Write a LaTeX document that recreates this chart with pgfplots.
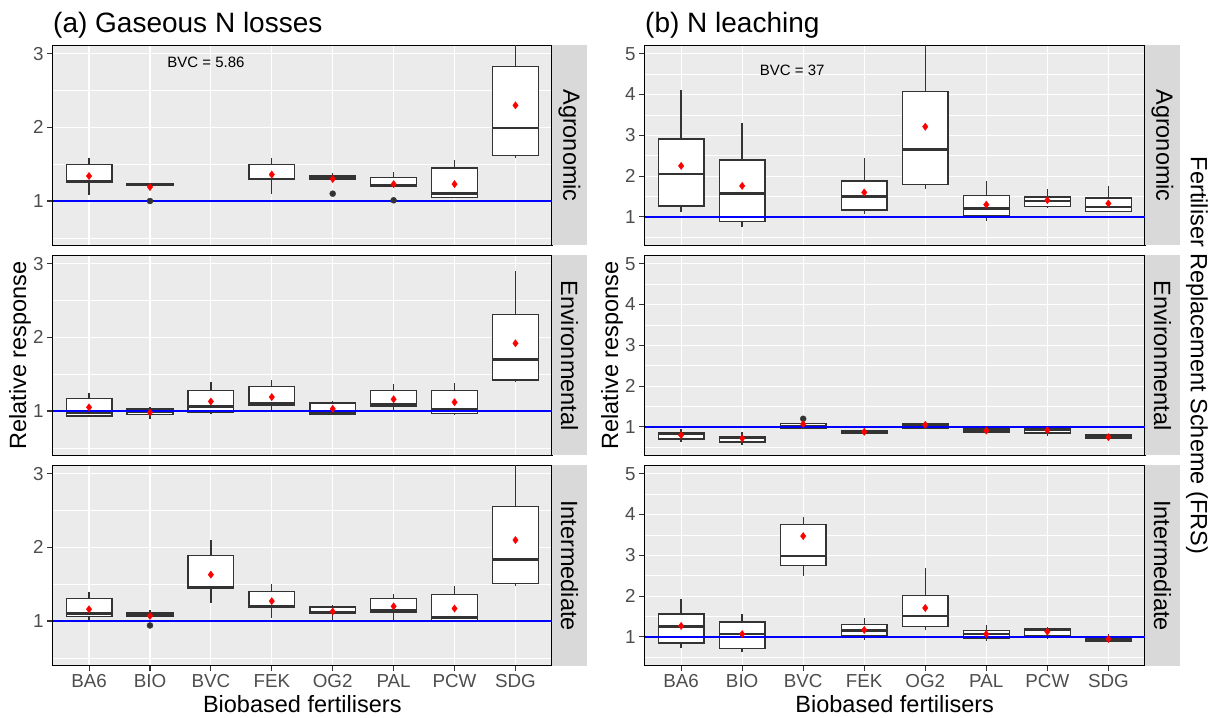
\documentclass[border=0pt]{standalone}
\usepackage{pgfplots}
\pgfplotsset{compat=1.18}
\usepgfplotslibrary{statistics}
\usepackage{fontspec}
\setmainfont{Liberation Sans}
\definecolor{g92}{HTML}{EBEBEB}
\definecolor{g85}{HTML}{D9D9D9}
\definecolor{g20}{HTML}{333333}
\definecolor{g30}{HTML}{4D4D4D}
% box: position, lower whisker, lower quartile, median, upper quartile, upper whisker
\newcommand{\bx}[6]{\addplot[draw=g20, fill=white, line width=1.4pt, boxplot prepared={draw direction=y, draw position=#1, lower whisker=#2, lower quartile=#3, median=#4, upper quartile=#5, upper whisker=#6}] coordinates {};}
\pgfplotsset{
  panel/.style={scale only axis, width=499.5pt, height=200pt, xmin=0.4, xmax=8.6,
    xtick={1,...,8}, xticklabels={}, anchor=south west,
    axis background/.style={fill=g92},
    grid=both, major grid style={white, line width=1.2pt}, minor grid style={white, line width=0.6pt},
    axis line style={black, line width=1.4pt},
    tick align=outside, major tick length=5.5pt, minor tick length=0pt,
    tick style={g20, line width=1.1pt},
    ytick pos=left, xtick pos=bottom,
    ticklabel style={font=\fontsize{18.8}{20}\selectfont, text=g30},
    /pgf/number format/assume math mode=true,
    boxplot/draw direction=y,
    boxplot/box extend=0.75, boxplot/whisker extend=0,
    boxplot/every median/.style={line width=2.6pt},
  },
  lefty/.style={ymin=0.396, ymax=3.113, ytick={1,2,3}, minor ytick={0.5,1.5,2.5}},
  righty/.style={ymin=0.30, ymax=5.20, ytick={1,2,3,4,5}, minor ytick={0.5,1.5,2.5,3.5,4.5}},
  nox/.style={every major x tick/.append style={draw=none}},
  botx/.style={xticklabels={BA6,BIO,BVC,FEK,OG2,PAL,PCW,SDG}},
  meanpt/.style={only marks, mark=diamond*, mark size=3.6pt, mark options={fill=red, draw=red}},
  outpt/.style={only marks, mark=*, mark size=3pt, mark options={fill=g20, draw=g20}},
  oneline/.style={blue, line width=1.7pt},
}
\begin{document}
\begin{tikzpicture}
% ---------------- (a) Gaseous N losses ----------------
\begin{axis}[panel, lefty, nox, at={(52.5pt,471.5pt)}]
\bx{1}{1.08}{1.25}{1.27}{1.50}{1.59}
\bx{2}{1.21}{1.21}{1.23}{1.24}{1.24}
\bx{4}{1.09}{1.29}{1.30}{1.50}{1.59}
\bx{5}{1.29}{1.29}{1.32}{1.35}{1.38}
\bx{6}{1.20}{1.20}{1.21}{1.32}{1.39}
\bx{7}{1.05}{1.05}{1.10}{1.45}{1.56}
\bx{8}{1.59}{1.62}{1.99}{2.83}{3.60}
\addplot[outpt] coordinates {(2,1.00) (5,1.10) (6,1.01)};
\addplot[oneline] coordinates {(0.4,1) (8.6,1)};
\addplot[meanpt] coordinates {(1,1.34) (2,1.19) (4,1.36) (5,1.30) (6,1.23) (7,1.23) (8,2.30)};
\node[font=\fontsize{15}{17}\selectfont] at (axis cs:2.92,2.88) {BVC = 5.86};
\end{axis}
\begin{axis}[panel, lefty, nox, at={(52.5pt,261.5pt)}]
\bx{1}{0.93}{0.93}{0.98}{1.17}{1.24}
\bx{2}{0.89}{0.95}{0.99}{1.03}{1.06}
\bx{3}{0.97}{0.98}{1.06}{1.28}{1.39}
\bx{4}{1.01}{1.08}{1.11}{1.33}{1.42}
\bx{5}{0.96}{0.96}{0.97}{1.11}{1.14}
\bx{6}{1.02}{1.06}{1.09}{1.28}{1.37}
\bx{7}{0.95}{0.97}{1.02}{1.28}{1.38}
\bx{8}{1.39}{1.42}{1.70}{2.31}{2.90}
\addplot[oneline] coordinates {(0.4,1) (8.6,1)};
\addplot[meanpt] coordinates {(1,1.05) (2,0.98) (3,1.13) (4,1.19) (5,1.03) (6,1.16) (7,1.12) (8,1.92)};
\end{axis}
\begin{axis}[panel, lefty, botx, at={(52.5pt,51.5pt)}]
\bx{1}{0.99}{1.06}{1.10}{1.31}{1.39}
\bx{2}{1.06}{1.06}{1.09}{1.12}{1.15}
\bx{3}{1.25}{1.44}{1.46}{1.89}{2.10}
\bx{4}{1.04}{1.18}{1.20}{1.40}{1.50}
\bx{5}{1.01}{1.10}{1.12}{1.19}{1.22}
\bx{6}{1.00}{1.12}{1.14}{1.31}{1.37}
\bx{7}{1.01}{1.01}{1.05}{1.36}{1.47}
\bx{8}{1.48}{1.51}{1.84}{2.56}{3.50}
\addplot[outpt] coordinates {(2,0.94)};
\addplot[oneline] coordinates {(0.4,1) (8.6,1)};
\addplot[meanpt] coordinates {(1,1.16) (2,1.07) (3,1.63) (4,1.27) (5,1.13) (6,1.20) (7,1.17) (8,2.10)};
\end{axis}
% ---------------- (b) N leaching ----------------
\begin{axis}[panel, righty, nox, width=500.5pt, at={(644.5pt,471.5pt)}]
\bx{1}{1.12}{1.27}{2.05}{2.91}{4.11}
\bx{2}{0.76}{0.89}{1.58}{2.39}{3.30}
\bx{4}{1.06}{1.17}{1.50}{1.88}{2.45}
\bx{5}{1.69}{1.80}{2.65}{4.07}{5.60}
\bx{6}{0.91}{1.02}{1.21}{1.52}{1.88}
\bx{7}{1.22}{1.26}{1.39}{1.49}{1.69}
\bx{8}{1.13}{1.13}{1.24}{1.46}{1.75}
\addplot[oneline] coordinates {(0.4,1) (8.6,1)};
\addplot[meanpt] coordinates {(1,2.25) (2,1.76) (4,1.60) (5,3.21) (6,1.30) (7,1.41) (8,1.33)};
\node[font=\fontsize{15}{17}\selectfont] at (axis cs:2.82,4.59) {BVC = 37};
\end{axis}
\begin{axis}[panel, righty, nox, width=500.5pt, at={(644.5pt,261.5pt)}]
\bx{1}{0.62}{0.70}{0.83}{0.86}{0.96}
\bx{2}{0.56}{0.63}{0.73}{0.76}{0.87}
\bx{3}{0.95}{0.97}{1.02}{1.08}{1.08}
\bx{4}{0.80}{0.85}{0.88}{0.91}{0.93}
\bx{5}{0.97}{0.97}{1.04}{1.07}{1.09}
\bx{6}{0.87}{0.87}{0.91}{0.95}{0.96}
\bx{7}{0.78}{0.85}{0.94}{0.98}{1.00}
\bx{8}{0.68}{0.71}{0.76}{0.80}{0.80}
\addplot[outpt] coordinates {(3,1.20)};
\addplot[oneline] coordinates {(0.4,1) (8.6,1)};
\addplot[meanpt] coordinates {(1,0.80) (2,0.72) (3,1.07) (4,0.88) (5,1.05) (6,0.91) (7,0.92) (8,0.75)};
\end{axis}
\begin{axis}[panel, righty, botx, width=500.5pt, at={(644.5pt,51.5pt)}]
\bx{1}{0.74}{0.85}{1.25}{1.56}{1.93}
\bx{2}{0.63}{0.71}{1.07}{1.37}{1.57}
\bx{3}{2.49}{2.75}{2.98}{3.76}{3.94}
\bx{4}{0.92}{1.02}{1.16}{1.30}{1.47}
\bx{5}{1.18}{1.26}{1.51}{2.02}{2.69}
\bx{6}{0.89}{0.97}{1.07}{1.16}{1.29}
\bx{7}{0.96}{1.02}{1.17}{1.20}{1.24}
\bx{8}{0.90}{0.90}{0.95}{0.98}{1.06}
\addplot[oneline] coordinates {(0.4,1) (8.6,1)};
\addplot[meanpt] coordinates {(1,1.27) (2,1.07) (3,3.47) (4,1.17) (5,1.71) (6,1.07) (7,1.13) (8,0.95)};
\end{axis}
% ---------------- strips ----------------
\foreach \xs in {552pt,1145pt}{
  \fill[g85] (\xs,471.5pt) rectangle ++(35pt,200pt);
  \fill[g85] (\xs,261.5pt) rectangle ++(35pt,200pt);
  \fill[g85] (\xs,51.5pt) rectangle ++(35pt,200pt);
  \node[rotate=-90, font=\fontsize{23.5}{26}\selectfont] at ([xshift=17.5pt]\xs,571.5pt) {Agronomic};
  \node[rotate=-90, font=\fontsize{23.5}{26}\selectfont] at ([xshift=17.5pt]\xs,361.5pt) {Environmental};
  \node[rotate=-90, font=\fontsize{23.5}{26}\selectfont] at ([xshift=17.5pt]\xs,151.5pt) {Intermediate};
}
% ---------------- titles ----------------
\node[anchor=base west, inner sep=0pt, font=\fontsize{28}{30}\selectfont] at (53pt,684pt) {(a) Gaseous N losses};
\node[anchor=base west, inner sep=0pt, font=\fontsize{28}{30}\selectfont] at (645pt,684pt) {(b) N leaching};
\node[anchor=base, inner sep=0pt, font=\fontsize{23.5}{26}\selectfont] at (302.3pt,5pt) {Biobased fertilisers};
\node[anchor=base, inner sep=0pt, font=\fontsize{23.5}{26}\selectfont] at (894.7pt,5pt) {Biobased fertilisers};
\node[rotate=90, inner sep=0pt, font=\fontsize{23.5}{26}\selectfont] at (20pt,361.5pt) {Relative response};
\node[rotate=90, inner sep=0pt, font=\fontsize{23.5}{26}\selectfont] at (612pt,361.5pt) {Relative response};
\node[rotate=-90, inner sep=0pt, font=\fontsize{23.5}{26}\selectfont] at (1197pt,361.5pt) {Fertiliser Replacement Scheme (FRS)};
\pgfresetboundingbox
\path (0,0) rectangle (1214pt,717pt);
\end{tikzpicture}
\end{document}
